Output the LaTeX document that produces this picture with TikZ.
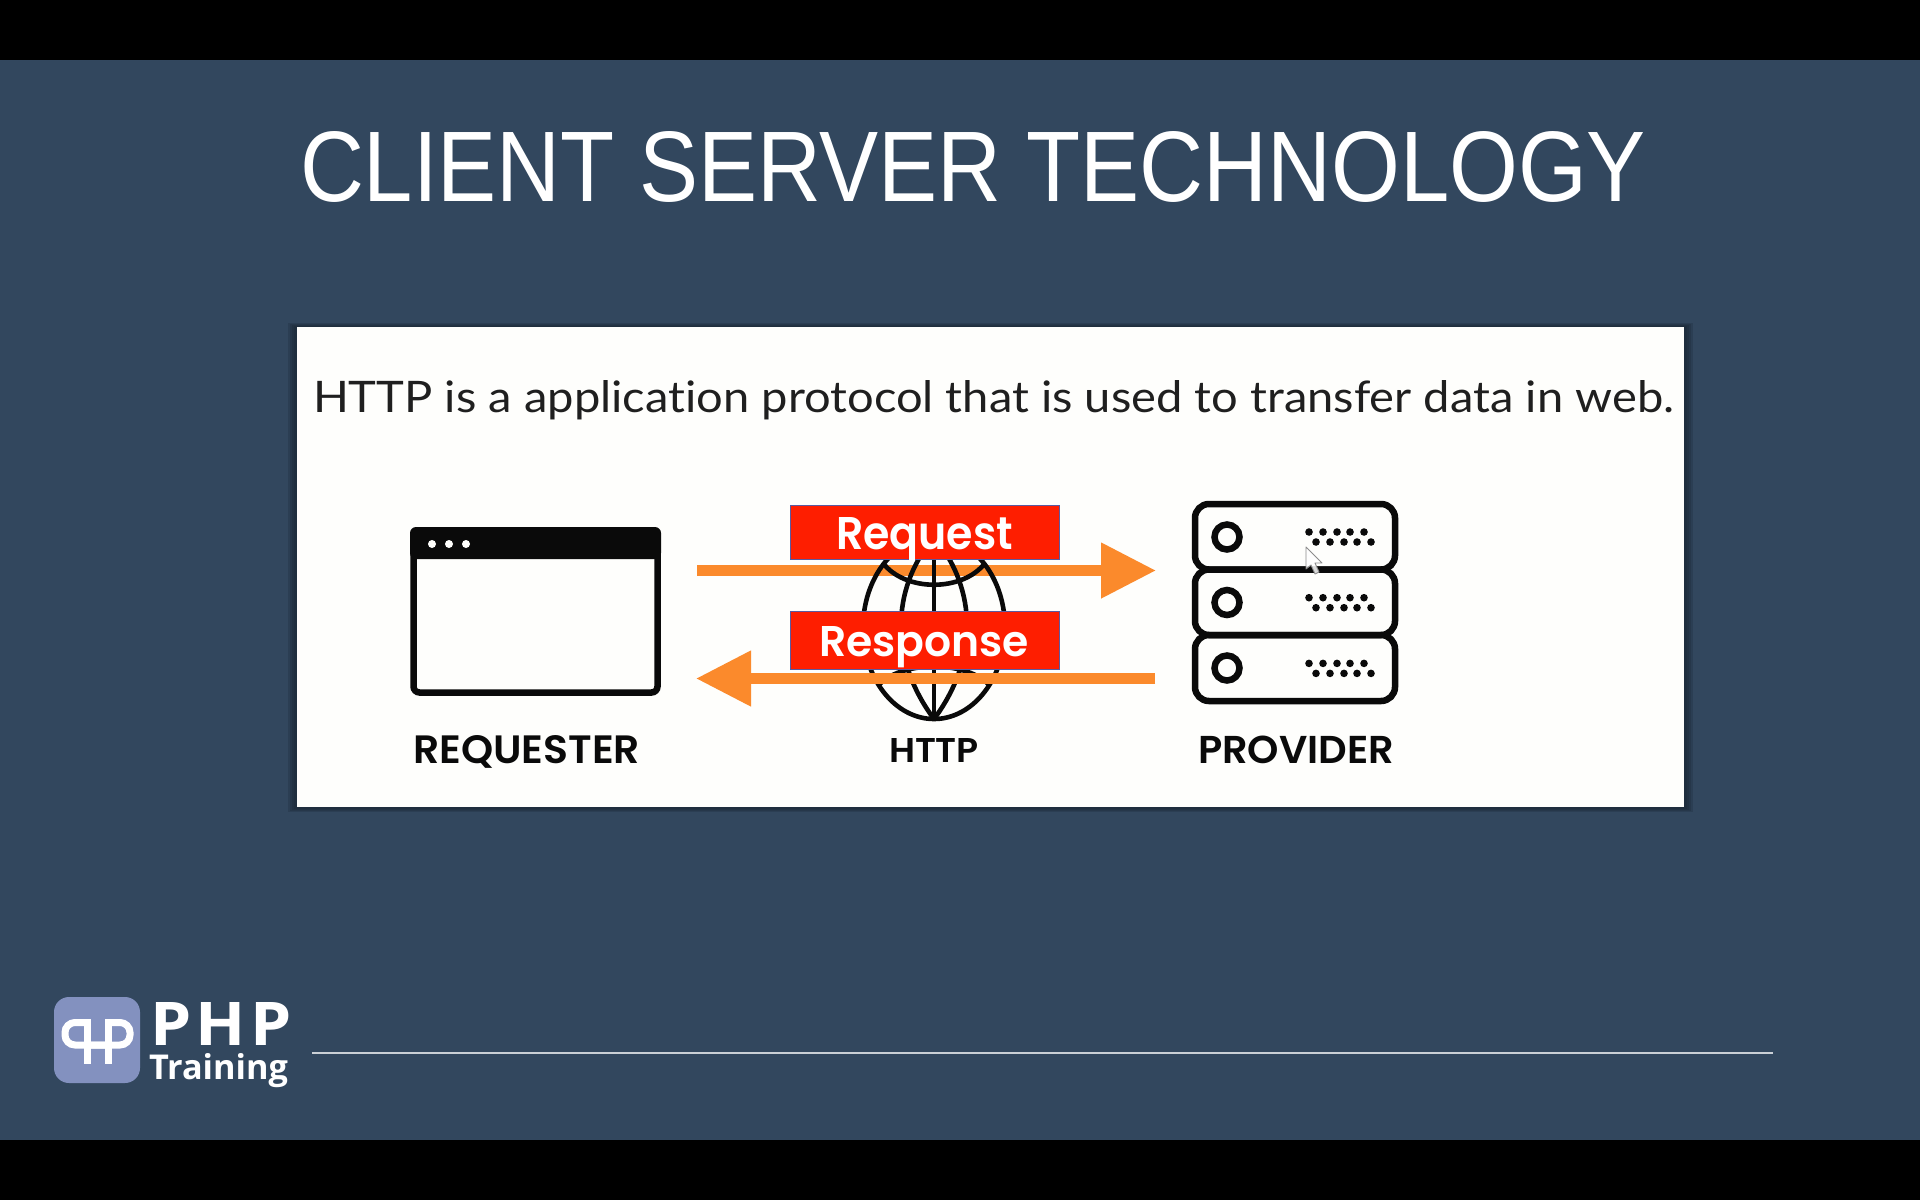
\documentclass[tikz,border=0pt]{standalone}
\usepackage{graphicx}
\usepackage{fontspec}
\usetikzlibrary{arrows.meta}
\setmainfont[Ligatures=NoCommon]{Lato}
\newfontfamily\titlef{Liberation Sans}
\newfontfamily\pop{Poppins SemiBold}
\newfontfamily\opens{Open Sans}
\definecolor{bgblue}{HTML}{32475E}
\definecolor{cardwhite}{HTML}{FEFEFC}
\definecolor{shadowc}{HTML}{16222E}
\definecolor{orangeA}{HTML}{FB8A2C}
\definecolor{redbox}{HTML}{FE1E00}
\definecolor{redline}{HTML}{5A5AA0}
\definecolor{logoblue}{HTML}{8391BF}
\definecolor{inkc}{HTML}{0A0A0A}
\newcommand{\fit}[3]{\resizebox{#1pt}{#2pt}{#3}}
\tikzset{
  txt/.style={anchor=base west,inner sep=0pt,outer sep=0pt},
  redlabel/.style={draw=redline,line width=0.8pt,fill=redbox,inner sep=0pt,anchor=north west},
  fatline/.style={orangeA,line width=11pt},
  fatarrow/.style={fatline,-{Triangle[length=55pt,width=53pt]}},
  icon/.style={inkc,line width=6.5pt},
  globeline/.style={inkc,line width=4.6pt},
  shade/.style={fill=shadowc,draw=none,fill opacity=0.22},
  svrow/.style={icon,rounded corners=14pt},
  dotc/.style={fill=inkc,draw=none},
  logostroke/.style={white,line width=7pt,line cap=butt,rounded corners=10pt}
}
\begin{document}
\begin{tikzpicture}[x=1pt,y=-1pt]
\useasboundingbox (0,0) rectangle (1920,1200);
\fill[black] (0,0) rectangle (1920,1200);
\fill[bgblue] (0,60) rectangle (1920,1140);
% title
\node[txt,text=white] (title) at (300,201) {\fit{1346}{70}{\titlef\fontsize{94}{94}\selectfont CLIENT SERVER TECHNOLOGY}};
% card shadow
\foreach \s in {9,7,5,3}{
  \fill[shade] (297-\s,327-\s/2) rectangle (1684+\s,807+\s/2);
}
\fill[cardwhite] (297,327) rectangle (1684,807);
\node[txt,text=black!88] (lead) at (313,412.5) {\fit{1361}{32}{\fontsize{44}{44}\selectfont HTTP is a application protocol that is used to transfer data in web.}};
% requester window
\draw[icon,fill=cardwhite,rounded corners=6pt] (413.5,530.5) rectangle (657.5,692.5);
\fill[inkc,rounded corners=6pt] (410,527) -- (661,527) -- (661,559) -- (410,559) -- cycle;
\foreach \x in {432,449,466}{\fill[cardwhite] (\x,544) circle (4);}
\node[txt,text=inkc] (requester) at (413,763) {\fit{227}{28}{\pop\fontsize{38}{38}\selectfont REQUESTER}};
% top arrow
\coordinate (reqstart) at (697,570.5);
\coordinate (reqend) at (1156,570.5);
\draw[fatarrow] (reqstart) -- (reqend);
% globe
\draw[globeline] (934,628) ellipse (71 and 91);
\draw[globeline] (934,719) .. controls (890,660) and (890,590) .. (934,537);
\draw[globeline] (934,719) .. controls (978,660) and (978,590) .. (934,537);
\draw[globeline] (934,537) -- (934,719);
\draw[globeline] (883,563) .. controls (905,592) and (963,592) .. (985,563);
\draw[globeline] (878,686) .. controls (900,660) and (968,660) .. (990,686);
% bottom arrow
\coordinate (respstart) at (1155,678.5);
\coordinate (respend) at (696,678.5);
\draw[fatarrow] (respstart) -- (respend);
% red labels
\node[redlabel,minimum width=269pt,minimum height=54pt] (reqbox) at (790,505) {};
\node[redlabel,minimum width=269pt,minimum height=58pt] (respbox) at (790,611) {};
\node[txt,text=white] (reqtxt) at (836,549) {\fit{177}{32}{\pop\fontsize{42}{42}\selectfont Request}};
\node[txt,text=white] (resptxt) at (819,656) {\fit{210}{30}{\pop\fontsize{42}{42}\selectfont Response}};
\node[txt,text=inkc] (http) at (889,762) {\fit{90}{24}{\pop\fontsize{33}{33}\selectfont HTTP}};
% provider
\draw[svrow] (1195,504) rectangle (1395,569.5);
\draw[svrow] (1195,569.5) rectangle (1395,635);
\draw[svrow] (1195,635) rectangle (1395,701);
\foreach \d/\c in {0/537,65.7/602.5,131.4/668}{
  \draw[icon] (1227,\c) circle (12.5);
  \foreach \x in {1309,1323,1337,1350,1364}{\fill[dotc] (\x,532+\d) circle (3.8);}
  \foreach \x in {1316,1330,1344,1357,1371}{\fill[dotc] (\x,542+\d) circle (3.8);}
}
\node[txt,text=inkc] (provider) at (1198,763) {\fit{196}{27.5}{\pop\fontsize{38}{38}\selectfont PROVIDER}};
% cursor
\draw[fill=white,fill opacity=0.85,draw=black!45,line width=0.9pt,line join=round]
  (1306,547) -- (1306,569) -- (1311,565) -- (1315,574) -- (1319,572) -- (1315,563) -- (1322,563) -- cycle;
% logo
\fill[logoblue,rounded corners=15pt] (54,997) rectangle (140,1083);
\draw[logostroke] (87,1019) -- (87,1064);
\draw[logostroke] (108,1019) -- (108,1064);
\draw[logostroke] (87,1022.5) -- (65,1022.5) -- (65,1045) -- (108,1045);
\draw[logostroke] (108,1022.5) -- (130,1022.5) -- (130,1045) -- (87,1045);
\node[txt,text=white] (php) at (150,1045) {\fit{142}{43}{\opens\bfseries\fontsize{60}{60}\selectfont P\kern.07em H\kern.07em P}};
\node[txt,text=white] (training) at (149,1079) {\fit{139}{26}{\opens\bfseries\fontsize{34}{34}\selectfont Training}};
\coordinate (rulestart) at (312,1053);
\coordinate (ruleend) at (1773,1053);
\draw[white,line width=1.2pt,opacity=.75] (rulestart) -- (ruleend);
\end{tikzpicture}
\end{document}
